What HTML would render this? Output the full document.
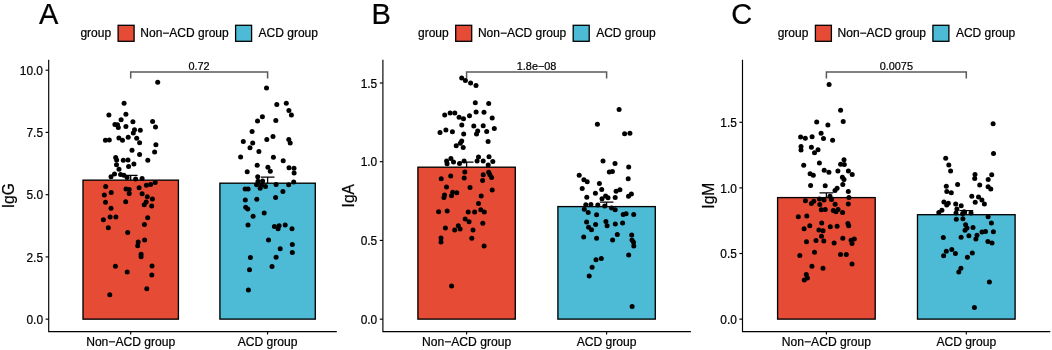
<!DOCTYPE html>
<html><head><meta charset="utf-8"><title>Figure</title>
<style>html,body{margin:0;padding:0;background:#fff}svg{display:block}</style>
</head><body>
<svg width="1052" height="350" viewBox="0 0 1052 350" font-family='"Liberation Sans", Arial, Helvetica, sans-serif' >
<defs><filter id="soft" x="0" y="0" width="100%" height="100%" filterUnits="userSpaceOnUse"><feGaussianBlur stdDeviation="0.4"/></filter></defs>
<rect width="1052" height="350" fill="#fff"/>
<g>
<g filter="url(#soft)" stroke="#000" stroke-width="0.22"><text transform="translate(39.0,23.6) scale(1,1.04)" font-size="29">A</text></g>
<g filter="url(#soft)" stroke="#000" stroke-width="0.22"><text x="80.4" y="37.4" font-size="12.0">group</text></g>
<rect x="118.1" y="25.3" width="16" height="16" fill="#E64B35" stroke="#000" stroke-width="1.3"/>
<g filter="url(#soft)" stroke="#000" stroke-width="0.22"><text x="140.3" y="37.4" font-size="12.0">Non−ACD group</text></g>
<rect x="235.6" y="25.3" width="16" height="16" fill="#4DBBD5" stroke="#000" stroke-width="1.3"/>
<g filter="url(#soft)" stroke="#000" stroke-width="0.22"><text x="258.6" y="37.4" font-size="12.0">ACD group</text></g>
<rect x="83.0" y="180.15" width="95.4" height="139.0" fill="#E64B35" stroke="#000" stroke-width="1.35"/>
<rect x="219.9" y="183.2" width="95.4" height="135.9" fill="#4DBBD5" stroke="#000" stroke-width="1.35"/>
<path d="M123.8 175.4H137.6M130.7 175.4V180.15" stroke="#000" stroke-width="1.3" fill="none"/>
<path d="M260.8 177.2H274.5M267.6 177.2V183.2" stroke="#000" stroke-width="1.3" fill="none"/>
<path d="M48.7 59.8V331.6H336.8" stroke="#000" stroke-width="1.15" fill="none"/>
<path d="M45.6 70.2H48.7" stroke="#000" stroke-width="1.15"/>
<g filter="url(#soft)" stroke="#000" stroke-width="0.22"><text x="43.0" y="74.8" font-size="11.9" text-anchor="end">10.0</text></g>
<path d="M45.6 132.4H48.7" stroke="#000" stroke-width="1.15"/>
<g filter="url(#soft)" stroke="#000" stroke-width="0.22"><text x="43.0" y="137.0" font-size="11.9" text-anchor="end">7.5</text></g>
<path d="M45.6 194.7H48.7" stroke="#000" stroke-width="1.15"/>
<g filter="url(#soft)" stroke="#000" stroke-width="0.22"><text x="43.0" y="199.3" font-size="11.9" text-anchor="end">5.0</text></g>
<path d="M45.6 256.9H48.7" stroke="#000" stroke-width="1.15"/>
<g filter="url(#soft)" stroke="#000" stroke-width="0.22"><text x="43.0" y="261.5" font-size="11.9" text-anchor="end">2.5</text></g>
<path d="M45.6 319.15H48.7" stroke="#000" stroke-width="1.15"/>
<g filter="url(#soft)" stroke="#000" stroke-width="0.22"><text x="43.0" y="323.8" font-size="11.9" text-anchor="end">0.0</text></g>
<path d="M130.7 331.6V334.6" stroke="#000" stroke-width="1.15"/>
<g filter="url(#soft)" stroke="#000" stroke-width="0.22"><text x="130.7" y="345.5" font-size="12.1" text-anchor="middle">Non−ACD group</text></g>
<path d="M267.6 331.6V334.6" stroke="#000" stroke-width="1.15"/>
<g filter="url(#soft)" stroke="#000" stroke-width="0.22"><text x="267.6" y="345.5" font-size="12.1" text-anchor="middle">ACD group</text></g>
<g filter="url(#soft)" stroke="#000" stroke-width="0.22"><text transform="translate(13.9,195.7) rotate(-90)" font-size="15.6" text-anchor="middle">IgG</text></g>
<path d="M130.7 78.6V71.9H267.6V78.6" stroke="#5a5a5a" stroke-width="1.5" fill="none"/>
<g filter="url(#soft)" stroke="#000" stroke-width="0.22"><text x="199.1" y="69.8" font-size="10.9" text-anchor="middle">0.72</text></g>
<g filter="url(#soft)">
<circle cx="157.7" cy="82.2" r="2.5"/>
<circle cx="124.1" cy="103.3" r="2.5"/>
<circle cx="108.9" cy="115.0" r="2.5"/>
<circle cx="125.9" cy="114.2" r="2.5"/>
<circle cx="121.1" cy="119.8" r="2.5"/>
<circle cx="132.9" cy="121.8" r="2.5"/>
<circle cx="152.6" cy="121.5" r="2.5"/>
<circle cx="114.9" cy="124.5" r="2.5"/>
<circle cx="117.5" cy="124.7" r="2.5"/>
<circle cx="118.3" cy="127.4" r="2.5"/>
<circle cx="125.9" cy="126.5" r="2.5"/>
<circle cx="155.5" cy="127.1" r="2.5"/>
<circle cx="134.5" cy="129.8" r="2.5"/>
<circle cx="133.3" cy="132.9" r="2.5"/>
<circle cx="140.3" cy="130.3" r="2.5"/>
<circle cx="105.4" cy="140.2" r="2.5"/>
<circle cx="109.3" cy="140.0" r="2.5"/>
<circle cx="118.9" cy="138.0" r="2.5"/>
<circle cx="122.5" cy="140.3" r="2.5"/>
<circle cx="128.2" cy="137.3" r="2.5"/>
<circle cx="136.7" cy="138.2" r="2.5"/>
<circle cx="139.6" cy="142.7" r="2.5"/>
<circle cx="155.9" cy="144.8" r="2.5"/>
<circle cx="132.0" cy="150.3" r="2.5"/>
<circle cx="139.6" cy="154.4" r="2.5"/>
<circle cx="154.6" cy="152.1" r="2.5"/>
<circle cx="115.7" cy="157.5" r="2.5"/>
<circle cx="116.6" cy="160.1" r="2.5"/>
<circle cx="123.3" cy="160.2" r="2.5"/>
<circle cx="128.0" cy="159.9" r="2.5"/>
<circle cx="147.8" cy="160.2" r="2.5"/>
<circle cx="116.5" cy="164.7" r="2.5"/>
<circle cx="133.9" cy="163.9" r="2.5"/>
<circle cx="128.6" cy="166.6" r="2.5"/>
<circle cx="119.0" cy="169.3" r="2.5"/>
<circle cx="111.0" cy="176.8" r="2.5"/>
<circle cx="114.5" cy="173.9" r="2.5"/>
<circle cx="120.6" cy="174.4" r="2.5"/>
<circle cx="123.9" cy="175.3" r="2.5"/>
<circle cx="127.1" cy="177.6" r="2.5"/>
<circle cx="135.6" cy="179.1" r="2.5"/>
<circle cx="142.1" cy="178.5" r="2.5"/>
<circle cx="146.4" cy="185.2" r="2.5"/>
<circle cx="150.6" cy="184.4" r="2.5"/>
<circle cx="155.2" cy="182.6" r="2.5"/>
<circle cx="105.7" cy="186.5" r="2.5"/>
<circle cx="111.2" cy="192.6" r="2.5"/>
<circle cx="104.3" cy="195.0" r="2.5"/>
<circle cx="126.0" cy="188.9" r="2.5"/>
<circle cx="129.2" cy="189.4" r="2.5"/>
<circle cx="129.2" cy="193.5" r="2.5"/>
<circle cx="139.1" cy="187.7" r="2.5"/>
<circle cx="142.1" cy="193.8" r="2.5"/>
<circle cx="147.3" cy="196.7" r="2.5"/>
<circle cx="152.4" cy="199.1" r="2.5"/>
<circle cx="146.2" cy="202.0" r="2.5"/>
<circle cx="144.2" cy="204.7" r="2.5"/>
<circle cx="151.7" cy="206.1" r="2.5"/>
<circle cx="125.7" cy="201.8" r="2.5"/>
<circle cx="105.5" cy="202.3" r="2.5"/>
<circle cx="111.0" cy="208.2" r="2.5"/>
<circle cx="110.1" cy="217.1" r="2.5"/>
<circle cx="115.9" cy="216.9" r="2.5"/>
<circle cx="103.4" cy="219.8" r="2.5"/>
<circle cx="147.7" cy="217.7" r="2.5"/>
<circle cx="144.4" cy="224.5" r="2.5"/>
<circle cx="108.3" cy="227.7" r="2.5"/>
<circle cx="127.7" cy="232.4" r="2.5"/>
<circle cx="144.6" cy="240.0" r="2.5"/>
<circle cx="138.2" cy="242.1" r="2.5"/>
<circle cx="137.7" cy="245.8" r="2.5"/>
<circle cx="141.1" cy="254.3" r="2.5"/>
<circle cx="141.1" cy="256.7" r="2.5"/>
<circle cx="115.4" cy="266.3" r="2.5"/>
<circle cx="152.0" cy="266.0" r="2.5"/>
<circle cx="127.2" cy="272.1" r="2.5"/>
<circle cx="151.8" cy="275.1" r="2.5"/>
<circle cx="146.8" cy="288.7" r="2.5"/>
<circle cx="109.8" cy="294.7" r="2.5"/>
<circle cx="266.5" cy="88.1" r="2.5"/>
<circle cx="276.8" cy="104.5" r="2.5"/>
<circle cx="286.3" cy="103.2" r="2.5"/>
<circle cx="288.9" cy="110.6" r="2.5"/>
<circle cx="291.4" cy="115.0" r="2.5"/>
<circle cx="262.4" cy="116.8" r="2.5"/>
<circle cx="257.5" cy="121.0" r="2.5"/>
<circle cx="275.8" cy="120.6" r="2.5"/>
<circle cx="252.1" cy="131.5" r="2.5"/>
<circle cx="273.0" cy="136.4" r="2.5"/>
<circle cx="266.8" cy="139.4" r="2.5"/>
<circle cx="243.3" cy="141.5" r="2.5"/>
<circle cx="252.7" cy="143.1" r="2.5"/>
<circle cx="288.8" cy="139.4" r="2.5"/>
<circle cx="290.2" cy="142.9" r="2.5"/>
<circle cx="250.0" cy="147.7" r="2.5"/>
<circle cx="258.9" cy="151.4" r="2.5"/>
<circle cx="240.6" cy="157.0" r="2.5"/>
<circle cx="273.4" cy="157.3" r="2.5"/>
<circle cx="283.2" cy="160.8" r="2.5"/>
<circle cx="257.2" cy="165.2" r="2.5"/>
<circle cx="267.9" cy="167.3" r="2.5"/>
<circle cx="270.3" cy="171.3" r="2.5"/>
<circle cx="289.0" cy="167.8" r="2.5"/>
<circle cx="294.0" cy="168.2" r="2.5"/>
<circle cx="294.1" cy="173.1" r="2.5"/>
<circle cx="247.2" cy="171.7" r="2.5"/>
<circle cx="276.1" cy="184.6" r="2.5"/>
<circle cx="288.7" cy="184.8" r="2.5"/>
<circle cx="293.7" cy="181.9" r="2.5"/>
<circle cx="257.7" cy="176.8" r="2.5"/>
<circle cx="258.0" cy="181.2" r="2.5"/>
<circle cx="262.6" cy="181.0" r="2.5"/>
<circle cx="256.6" cy="184.8" r="2.5"/>
<circle cx="261.5" cy="185.0" r="2.5"/>
<circle cx="265.5" cy="186.6" r="2.5"/>
<circle cx="260.2" cy="188.2" r="2.5"/>
<circle cx="245.1" cy="189.1" r="2.5"/>
<circle cx="248.1" cy="189.1" r="2.5"/>
<circle cx="282.9" cy="191.4" r="2.5"/>
<circle cx="275.6" cy="197.5" r="2.5"/>
<circle cx="245.3" cy="199.9" r="2.5"/>
<circle cx="256.8" cy="199.3" r="2.5"/>
<circle cx="245.7" cy="207.2" r="2.5"/>
<circle cx="247.8" cy="209.0" r="2.5"/>
<circle cx="264.2" cy="213.0" r="2.5"/>
<circle cx="253.1" cy="216.3" r="2.5"/>
<circle cx="248.0" cy="225.1" r="2.5"/>
<circle cx="274.4" cy="226.6" r="2.5"/>
<circle cx="279.1" cy="225.7" r="2.5"/>
<circle cx="285.2" cy="224.9" r="2.5"/>
<circle cx="278.1" cy="228.7" r="2.5"/>
<circle cx="292.0" cy="228.7" r="2.5"/>
<circle cx="268.5" cy="240.1" r="2.5"/>
<circle cx="292.3" cy="244.5" r="2.5"/>
<circle cx="280.2" cy="248.8" r="2.5"/>
<circle cx="292.3" cy="252.5" r="2.5"/>
<circle cx="250.4" cy="257.6" r="2.5"/>
<circle cx="276.1" cy="257.2" r="2.5"/>
<circle cx="272.0" cy="266.6" r="2.5"/>
<circle cx="249.5" cy="269.8" r="2.5"/>
<circle cx="248.4" cy="289.9" r="2.5"/>
</g>
</g>
<g>
<g filter="url(#soft)" stroke="#000" stroke-width="0.22"><text transform="translate(371.6,23.6) scale(1,1.04)" font-size="29">B</text></g>
<g filter="url(#soft)" stroke="#000" stroke-width="0.22"><text x="418.0" y="37.4" font-size="12.0">group</text></g>
<rect x="455.7" y="25.3" width="16" height="16" fill="#E64B35" stroke="#000" stroke-width="1.3"/>
<g filter="url(#soft)" stroke="#000" stroke-width="0.22"><text x="477.9" y="37.4" font-size="12.0">Non−ACD group</text></g>
<rect x="573.2" y="25.3" width="16" height="16" fill="#4DBBD5" stroke="#000" stroke-width="1.3"/>
<g filter="url(#soft)" stroke="#000" stroke-width="0.22"><text x="596.2" y="37.4" font-size="12.0">ACD group</text></g>
<rect x="417.9" y="167.2" width="97.4" height="151.9" fill="#E64B35" stroke="#000" stroke-width="1.35"/>
<rect x="557.9" y="206.6" width="97.4" height="112.5" fill="#4DBBD5" stroke="#000" stroke-width="1.35"/>
<path d="M459.8 162.1H473.5M466.6 162.1V167.2" stroke="#000" stroke-width="1.3" fill="none"/>
<path d="M599.8 202.2H613.5M606.6 202.2V206.6" stroke="#000" stroke-width="1.3" fill="none"/>
<path d="M382.9 59.8V331.6H690.9" stroke="#000" stroke-width="1.15" fill="none"/>
<path d="M379.8 83.0H382.9" stroke="#000" stroke-width="1.15"/>
<g filter="url(#soft)" stroke="#000" stroke-width="0.22"><text x="377.2" y="87.6" font-size="11.9" text-anchor="end">1.5</text></g>
<path d="M379.8 161.7H382.9" stroke="#000" stroke-width="1.15"/>
<g filter="url(#soft)" stroke="#000" stroke-width="0.22"><text x="377.2" y="166.3" font-size="11.9" text-anchor="end">1.0</text></g>
<path d="M379.8 240.4H382.9" stroke="#000" stroke-width="1.15"/>
<g filter="url(#soft)" stroke="#000" stroke-width="0.22"><text x="377.2" y="245.0" font-size="11.9" text-anchor="end">0.5</text></g>
<path d="M379.8 319.15H382.9" stroke="#000" stroke-width="1.15"/>
<g filter="url(#soft)" stroke="#000" stroke-width="0.22"><text x="377.2" y="323.8" font-size="11.9" text-anchor="end">0.0</text></g>
<path d="M466.6 331.6V334.6" stroke="#000" stroke-width="1.15"/>
<g filter="url(#soft)" stroke="#000" stroke-width="0.22"><text x="466.6" y="345.5" font-size="12.1" text-anchor="middle">Non−ACD group</text></g>
<path d="M606.6 331.6V334.6" stroke="#000" stroke-width="1.15"/>
<g filter="url(#soft)" stroke="#000" stroke-width="0.22"><text x="606.6" y="345.5" font-size="12.1" text-anchor="middle">ACD group</text></g>
<g filter="url(#soft)" stroke="#000" stroke-width="0.22"><text transform="translate(354.2,195.7) rotate(-90)" font-size="15.6" text-anchor="middle">IgA</text></g>
<path d="M466.6 78.6V71.9H606.6V78.6" stroke="#5a5a5a" stroke-width="1.5" fill="none"/>
<g filter="url(#soft)" stroke="#000" stroke-width="0.22"><text x="536.6" y="69.8" font-size="10.9" text-anchor="middle">1.8e−08</text></g>
<g filter="url(#soft)">
<circle cx="461.7" cy="77.9" r="2.5"/>
<circle cx="465.4" cy="80.5" r="2.5"/>
<circle cx="470.6" cy="82.9" r="2.5"/>
<circle cx="476.0" cy="85.5" r="2.5"/>
<circle cx="475.3" cy="102.8" r="2.5"/>
<circle cx="488.7" cy="103.6" r="2.5"/>
<circle cx="444.7" cy="114.9" r="2.5"/>
<circle cx="450.1" cy="113.1" r="2.5"/>
<circle cx="454.8" cy="112.9" r="2.5"/>
<circle cx="459.1" cy="117.3" r="2.5"/>
<circle cx="463.5" cy="118.7" r="2.5"/>
<circle cx="469.5" cy="115.8" r="2.5"/>
<circle cx="476.1" cy="111.9" r="2.5"/>
<circle cx="484.0" cy="112.3" r="2.5"/>
<circle cx="492.2" cy="118.1" r="2.5"/>
<circle cx="461.8" cy="124.9" r="2.5"/>
<circle cx="473.8" cy="126.0" r="2.5"/>
<circle cx="483.2" cy="125.8" r="2.5"/>
<circle cx="494.3" cy="128.4" r="2.5"/>
<circle cx="440.0" cy="132.4" r="2.5"/>
<circle cx="445.9" cy="130.0" r="2.5"/>
<circle cx="452.4" cy="131.8" r="2.5"/>
<circle cx="463.7" cy="134.0" r="2.5"/>
<circle cx="477.7" cy="131.0" r="2.5"/>
<circle cx="476.5" cy="134.0" r="2.5"/>
<circle cx="486.7" cy="131.4" r="2.5"/>
<circle cx="488.1" cy="141.6" r="2.5"/>
<circle cx="461.7" cy="141.0" r="2.5"/>
<circle cx="460.3" cy="143.3" r="2.5"/>
<circle cx="456.2" cy="145.7" r="2.5"/>
<circle cx="463.2" cy="147.4" r="2.5"/>
<circle cx="450.9" cy="158.5" r="2.5"/>
<circle cx="446.6" cy="161.1" r="2.5"/>
<circle cx="447.1" cy="163.7" r="2.5"/>
<circle cx="453.5" cy="162.0" r="2.5"/>
<circle cx="459.5" cy="163.4" r="2.5"/>
<circle cx="464.1" cy="160.9" r="2.5"/>
<circle cx="478.5" cy="157.0" r="2.5"/>
<circle cx="477.1" cy="160.9" r="2.5"/>
<circle cx="483.2" cy="160.9" r="2.5"/>
<circle cx="489.0" cy="156.8" r="2.5"/>
<circle cx="492.8" cy="161.4" r="2.5"/>
<circle cx="488.2" cy="165.0" r="2.5"/>
<circle cx="464.8" cy="171.9" r="2.5"/>
<circle cx="450.7" cy="176.1" r="2.5"/>
<circle cx="441.2" cy="178.7" r="2.5"/>
<circle cx="464.2" cy="178.1" r="2.5"/>
<circle cx="483.2" cy="174.8" r="2.5"/>
<circle cx="488.7" cy="172.2" r="2.5"/>
<circle cx="489.9" cy="174.8" r="2.5"/>
<circle cx="491.6" cy="177.5" r="2.5"/>
<circle cx="482.6" cy="180.4" r="2.5"/>
<circle cx="446.5" cy="186.9" r="2.5"/>
<circle cx="470.0" cy="187.5" r="2.5"/>
<circle cx="492.2" cy="190.1" r="2.5"/>
<circle cx="452.7" cy="192.2" r="2.5"/>
<circle cx="456.8" cy="192.8" r="2.5"/>
<circle cx="451.5" cy="195.7" r="2.5"/>
<circle cx="444.5" cy="194.9" r="2.5"/>
<circle cx="443.9" cy="197.4" r="2.5"/>
<circle cx="481.2" cy="195.9" r="2.5"/>
<circle cx="478.5" cy="203.6" r="2.5"/>
<circle cx="438.6" cy="211.7" r="2.5"/>
<circle cx="447.2" cy="211.1" r="2.5"/>
<circle cx="468.2" cy="212.1" r="2.5"/>
<circle cx="474.6" cy="211.9" r="2.5"/>
<circle cx="480.8" cy="209.7" r="2.5"/>
<circle cx="484.3" cy="211.9" r="2.5"/>
<circle cx="465.2" cy="218.9" r="2.5"/>
<circle cx="469.1" cy="221.7" r="2.5"/>
<circle cx="482.8" cy="223.2" r="2.5"/>
<circle cx="445.4" cy="227.9" r="2.5"/>
<circle cx="458.3" cy="225.8" r="2.5"/>
<circle cx="460.1" cy="228.9" r="2.5"/>
<circle cx="454.7" cy="229.9" r="2.5"/>
<circle cx="473.0" cy="230.0" r="2.5"/>
<circle cx="441.0" cy="237.9" r="2.5"/>
<circle cx="441.0" cy="242.0" r="2.5"/>
<circle cx="471.8" cy="238.2" r="2.5"/>
<circle cx="484.1" cy="246.1" r="2.5"/>
<circle cx="451.6" cy="286.1" r="2.5"/>
<circle cx="619.1" cy="109.6" r="2.5"/>
<circle cx="597.4" cy="124.3" r="2.5"/>
<circle cx="624.6" cy="133.7" r="2.5"/>
<circle cx="629.9" cy="133.2" r="2.5"/>
<circle cx="603.0" cy="161.1" r="2.5"/>
<circle cx="615.0" cy="163.6" r="2.5"/>
<circle cx="628.7" cy="167.1" r="2.5"/>
<circle cx="609.3" cy="172.0" r="2.5"/>
<circle cx="612.4" cy="171.4" r="2.5"/>
<circle cx="579.2" cy="175.3" r="2.5"/>
<circle cx="583.9" cy="179.8" r="2.5"/>
<circle cx="587.2" cy="181.7" r="2.5"/>
<circle cx="628.2" cy="178.8" r="2.5"/>
<circle cx="599.4" cy="183.5" r="2.5"/>
<circle cx="582.2" cy="188.6" r="2.5"/>
<circle cx="601.7" cy="189.6" r="2.5"/>
<circle cx="616.1" cy="191.3" r="2.5"/>
<circle cx="619.9" cy="189.8" r="2.5"/>
<circle cx="595.4" cy="193.3" r="2.5"/>
<circle cx="631.4" cy="194.0" r="2.5"/>
<circle cx="628.5" cy="196.2" r="2.5"/>
<circle cx="586.8" cy="197.3" r="2.5"/>
<circle cx="615.2" cy="197.5" r="2.5"/>
<circle cx="602.0" cy="198.7" r="2.5"/>
<circle cx="605.6" cy="196.0" r="2.5"/>
<circle cx="608.0" cy="197.8" r="2.5"/>
<circle cx="585.8" cy="204.7" r="2.5"/>
<circle cx="590.9" cy="204.4" r="2.5"/>
<circle cx="597.8" cy="204.9" r="2.5"/>
<circle cx="604.7" cy="205.9" r="2.5"/>
<circle cx="611.6" cy="208.0" r="2.5"/>
<circle cx="615.2" cy="209.8" r="2.5"/>
<circle cx="584.3" cy="209.3" r="2.5"/>
<circle cx="588.2" cy="212.5" r="2.5"/>
<circle cx="596.6" cy="214.8" r="2.5"/>
<circle cx="623.2" cy="214.6" r="2.5"/>
<circle cx="626.1" cy="213.8" r="2.5"/>
<circle cx="633.7" cy="214.4" r="2.5"/>
<circle cx="586.6" cy="221.9" r="2.5"/>
<circle cx="605.9" cy="221.6" r="2.5"/>
<circle cx="607.1" cy="225.7" r="2.5"/>
<circle cx="595.6" cy="224.6" r="2.5"/>
<circle cx="615.3" cy="224.0" r="2.5"/>
<circle cx="622.6" cy="223.0" r="2.5"/>
<circle cx="588.6" cy="227.3" r="2.5"/>
<circle cx="591.5" cy="229.8" r="2.5"/>
<circle cx="583.7" cy="237.0" r="2.5"/>
<circle cx="596.6" cy="238.2" r="2.5"/>
<circle cx="617.3" cy="234.4" r="2.5"/>
<circle cx="612.6" cy="240.0" r="2.5"/>
<circle cx="631.7" cy="235.0" r="2.5"/>
<circle cx="632.0" cy="239.9" r="2.5"/>
<circle cx="633.5" cy="242.2" r="2.5"/>
<circle cx="633.8" cy="246.1" r="2.5"/>
<circle cx="628.7" cy="255.1" r="2.5"/>
<circle cx="596.0" cy="259.8" r="2.5"/>
<circle cx="601.3" cy="258.4" r="2.5"/>
<circle cx="592.1" cy="267.3" r="2.5"/>
<circle cx="589.2" cy="276.1" r="2.5"/>
<circle cx="632.1" cy="306.5" r="2.5"/>
</g>
</g>
<g>
<g filter="url(#soft)" stroke="#000" stroke-width="0.22"><text transform="translate(731.2,23.6) scale(1,1.04)" font-size="29">C</text></g>
<g filter="url(#soft)" stroke="#000" stroke-width="0.22"><text x="777.7" y="37.4" font-size="12.0">group</text></g>
<rect x="815.4" y="25.3" width="16" height="16" fill="#E64B35" stroke="#000" stroke-width="1.3"/>
<g filter="url(#soft)" stroke="#000" stroke-width="0.22"><text x="837.6" y="37.4" font-size="12.0">Non−ACD group</text></g>
<rect x="932.9" y="25.3" width="16" height="16" fill="#4DBBD5" stroke="#000" stroke-width="1.3"/>
<g filter="url(#soft)" stroke="#000" stroke-width="0.22"><text x="955.9" y="37.4" font-size="12.0">ACD group</text></g>
<rect x="777.6" y="197.6" width="97.6" height="121.5" fill="#E64B35" stroke="#000" stroke-width="1.35"/>
<rect x="917.5" y="214.7" width="97.6" height="104.4" fill="#4DBBD5" stroke="#000" stroke-width="1.35"/>
<path d="M819.5 192.8H833.3M826.4 192.8V197.6" stroke="#000" stroke-width="1.3" fill="none"/>
<path d="M959.4 210.7H973.2M966.3 210.7V214.7" stroke="#000" stroke-width="1.3" fill="none"/>
<path d="M742.5 59.8V331.6H1050.3" stroke="#000" stroke-width="1.15" fill="none"/>
<path d="M739.4 122.3H742.5" stroke="#000" stroke-width="1.15"/>
<g filter="url(#soft)" stroke="#000" stroke-width="0.22"><text x="736.8" y="126.9" font-size="11.9" text-anchor="end">1.5</text></g>
<path d="M739.4 187.9H742.5" stroke="#000" stroke-width="1.15"/>
<g filter="url(#soft)" stroke="#000" stroke-width="0.22"><text x="736.8" y="192.5" font-size="11.9" text-anchor="end">1.0</text></g>
<path d="M739.4 253.5H742.5" stroke="#000" stroke-width="1.15"/>
<g filter="url(#soft)" stroke="#000" stroke-width="0.22"><text x="736.8" y="258.1" font-size="11.9" text-anchor="end">0.5</text></g>
<path d="M739.4 319.15H742.5" stroke="#000" stroke-width="1.15"/>
<g filter="url(#soft)" stroke="#000" stroke-width="0.22"><text x="736.8" y="323.8" font-size="11.9" text-anchor="end">0.0</text></g>
<path d="M826.4 331.6V334.6" stroke="#000" stroke-width="1.15"/>
<g filter="url(#soft)" stroke="#000" stroke-width="0.22"><text x="826.4" y="345.5" font-size="12.1" text-anchor="middle">Non−ACD group</text></g>
<path d="M966.3 331.6V334.6" stroke="#000" stroke-width="1.15"/>
<g filter="url(#soft)" stroke="#000" stroke-width="0.22"><text x="966.3" y="345.5" font-size="12.1" text-anchor="middle">ACD group</text></g>
<g filter="url(#soft)" stroke="#000" stroke-width="0.22"><text transform="translate(714.3,195.7) rotate(-90)" font-size="15.6" text-anchor="middle">IgM</text></g>
<path d="M826.4 78.6V71.9H966.3V78.6" stroke="#5a5a5a" stroke-width="1.5" fill="none"/>
<g filter="url(#soft)" stroke="#000" stroke-width="0.22"><text x="896.3" y="69.8" font-size="10.9" text-anchor="middle">0.0075</text></g>
<g filter="url(#soft)">
<circle cx="829.1" cy="84.4" r="2.5"/>
<circle cx="840.6" cy="110.3" r="2.5"/>
<circle cx="816.7" cy="122.0" r="2.5"/>
<circle cx="827.9" cy="125.1" r="2.5"/>
<circle cx="843.2" cy="121.6" r="2.5"/>
<circle cx="821.1" cy="133.2" r="2.5"/>
<circle cx="800.6" cy="137.0" r="2.5"/>
<circle cx="805.3" cy="138.2" r="2.5"/>
<circle cx="812.1" cy="136.8" r="2.5"/>
<circle cx="823.5" cy="138.4" r="2.5"/>
<circle cx="832.6" cy="140.2" r="2.5"/>
<circle cx="801.0" cy="146.6" r="2.5"/>
<circle cx="801.0" cy="149.9" r="2.5"/>
<circle cx="811.4" cy="147.3" r="2.5"/>
<circle cx="818.0" cy="149.7" r="2.5"/>
<circle cx="814.5" cy="152.8" r="2.5"/>
<circle cx="803.7" cy="165.2" r="2.5"/>
<circle cx="819.4" cy="163.1" r="2.5"/>
<circle cx="844.0" cy="159.7" r="2.5"/>
<circle cx="840.6" cy="164.3" r="2.5"/>
<circle cx="844.3" cy="164.6" r="2.5"/>
<circle cx="824.2" cy="170.3" r="2.5"/>
<circle cx="828.9" cy="172.3" r="2.5"/>
<circle cx="837.9" cy="171.1" r="2.5"/>
<circle cx="848.4" cy="170.9" r="2.5"/>
<circle cx="852.2" cy="174.6" r="2.5"/>
<circle cx="810.1" cy="173.7" r="2.5"/>
<circle cx="813.3" cy="175.2" r="2.5"/>
<circle cx="842.4" cy="177.2" r="2.5"/>
<circle cx="844.0" cy="179.5" r="2.5"/>
<circle cx="810.6" cy="185.5" r="2.5"/>
<circle cx="825.2" cy="185.7" r="2.5"/>
<circle cx="842.8" cy="184.6" r="2.5"/>
<circle cx="837.1" cy="188.3" r="2.5"/>
<circle cx="835.0" cy="190.4" r="2.5"/>
<circle cx="848.3" cy="191.5" r="2.5"/>
<circle cx="805.4" cy="200.7" r="2.5"/>
<circle cx="813.8" cy="201.3" r="2.5"/>
<circle cx="811.4" cy="203.4" r="2.5"/>
<circle cx="819.5" cy="198.9" r="2.5"/>
<circle cx="824.0" cy="200.1" r="2.5"/>
<circle cx="830.0" cy="196.2" r="2.5"/>
<circle cx="831.5" cy="199.5" r="2.5"/>
<circle cx="819.8" cy="204.6" r="2.5"/>
<circle cx="835.1" cy="204.3" r="2.5"/>
<circle cx="848.9" cy="197.4" r="2.5"/>
<circle cx="848.3" cy="204.0" r="2.5"/>
<circle cx="821.3" cy="209.7" r="2.5"/>
<circle cx="825.2" cy="209.4" r="2.5"/>
<circle cx="833.3" cy="210.6" r="2.5"/>
<circle cx="838.1" cy="209.4" r="2.5"/>
<circle cx="836.0" cy="211.8" r="2.5"/>
<circle cx="842.6" cy="212.4" r="2.5"/>
<circle cx="798.3" cy="216.7" r="2.5"/>
<circle cx="806.8" cy="216.1" r="2.5"/>
<circle cx="821.7" cy="222.9" r="2.5"/>
<circle cx="847.9" cy="223.5" r="2.5"/>
<circle cx="848.7" cy="225.8" r="2.5"/>
<circle cx="809.8" cy="225.8" r="2.5"/>
<circle cx="830.3" cy="226.8" r="2.5"/>
<circle cx="837.1" cy="226.2" r="2.5"/>
<circle cx="804.1" cy="228.8" r="2.5"/>
<circle cx="818.9" cy="229.9" r="2.5"/>
<circle cx="823.0" cy="230.8" r="2.5"/>
<circle cx="821.5" cy="236.3" r="2.5"/>
<circle cx="842.8" cy="238.2" r="2.5"/>
<circle cx="806.5" cy="241.7" r="2.5"/>
<circle cx="816.0" cy="240.4" r="2.5"/>
<circle cx="823.8" cy="241.0" r="2.5"/>
<circle cx="834.1" cy="242.9" r="2.5"/>
<circle cx="851.1" cy="240.2" r="2.5"/>
<circle cx="854.3" cy="239.0" r="2.5"/>
<circle cx="852.0" cy="243.4" r="2.5"/>
<circle cx="814.5" cy="252.2" r="2.5"/>
<circle cx="799.8" cy="255.6" r="2.5"/>
<circle cx="840.5" cy="254.6" r="2.5"/>
<circle cx="846.3" cy="254.5" r="2.5"/>
<circle cx="852.0" cy="264.1" r="2.5"/>
<circle cx="811.9" cy="266.2" r="2.5"/>
<circle cx="823.0" cy="268.3" r="2.5"/>
<circle cx="806.3" cy="274.4" r="2.5"/>
<circle cx="807.4" cy="277.9" r="2.5"/>
<circle cx="804.3" cy="279.9" r="2.5"/>
<circle cx="993.1" cy="123.7" r="2.5"/>
<circle cx="993.5" cy="153.4" r="2.5"/>
<circle cx="945.7" cy="158.3" r="2.5"/>
<circle cx="948.8" cy="165.1" r="2.5"/>
<circle cx="950.6" cy="171.0" r="2.5"/>
<circle cx="975.0" cy="174.4" r="2.5"/>
<circle cx="974.7" cy="178.6" r="2.5"/>
<circle cx="991.7" cy="174.7" r="2.5"/>
<circle cx="988.2" cy="179.4" r="2.5"/>
<circle cx="957.6" cy="184.4" r="2.5"/>
<circle cx="946.3" cy="186.2" r="2.5"/>
<circle cx="979.7" cy="185.0" r="2.5"/>
<circle cx="988.1" cy="186.8" r="2.5"/>
<circle cx="990.8" cy="189.0" r="2.5"/>
<circle cx="946.8" cy="191.4" r="2.5"/>
<circle cx="951.3" cy="192.8" r="2.5"/>
<circle cx="971.8" cy="196.3" r="2.5"/>
<circle cx="978.5" cy="196.9" r="2.5"/>
<circle cx="943.9" cy="201.9" r="2.5"/>
<circle cx="948.3" cy="203.3" r="2.5"/>
<circle cx="946.7" cy="205.1" r="2.5"/>
<circle cx="955.7" cy="203.9" r="2.5"/>
<circle cx="961.2" cy="205.8" r="2.5"/>
<circle cx="975.2" cy="202.3" r="2.5"/>
<circle cx="981.9" cy="200.0" r="2.5"/>
<circle cx="984.4" cy="204.0" r="2.5"/>
<circle cx="941.9" cy="210.2" r="2.5"/>
<circle cx="938.8" cy="212.6" r="2.5"/>
<circle cx="956.9" cy="209.0" r="2.5"/>
<circle cx="956.0" cy="212.9" r="2.5"/>
<circle cx="964.1" cy="211.7" r="2.5"/>
<circle cx="962.6" cy="213.8" r="2.5"/>
<circle cx="971.0" cy="212.9" r="2.5"/>
<circle cx="956.3" cy="219.2" r="2.5"/>
<circle cx="962.9" cy="218.7" r="2.5"/>
<circle cx="988.1" cy="216.8" r="2.5"/>
<circle cx="991.4" cy="222.9" r="2.5"/>
<circle cx="965.6" cy="224.8" r="2.5"/>
<circle cx="967.0" cy="228.0" r="2.5"/>
<circle cx="965.0" cy="230.3" r="2.5"/>
<circle cx="973.0" cy="227.6" r="2.5"/>
<circle cx="982.0" cy="232.1" r="2.5"/>
<circle cx="985.5" cy="231.5" r="2.5"/>
<circle cx="993.4" cy="231.8" r="2.5"/>
<circle cx="943.3" cy="237.6" r="2.5"/>
<circle cx="961.1" cy="237.3" r="2.5"/>
<circle cx="968.9" cy="235.8" r="2.5"/>
<circle cx="977.0" cy="235.3" r="2.5"/>
<circle cx="975.9" cy="239.1" r="2.5"/>
<circle cx="987.9" cy="241.4" r="2.5"/>
<circle cx="992.0" cy="243.0" r="2.5"/>
<circle cx="946.3" cy="251.2" r="2.5"/>
<circle cx="943.6" cy="255.7" r="2.5"/>
<circle cx="951.8" cy="249.4" r="2.5"/>
<circle cx="955.4" cy="253.5" r="2.5"/>
<circle cx="972.3" cy="252.9" r="2.5"/>
<circle cx="967.4" cy="257.3" r="2.5"/>
<circle cx="960.9" cy="268.3" r="2.5"/>
<circle cx="958.8" cy="271.9" r="2.5"/>
<circle cx="989.4" cy="282.1" r="2.5"/>
<circle cx="974.4" cy="307.5" r="2.5"/>
</g>
</g>
</svg>
</body></html>
